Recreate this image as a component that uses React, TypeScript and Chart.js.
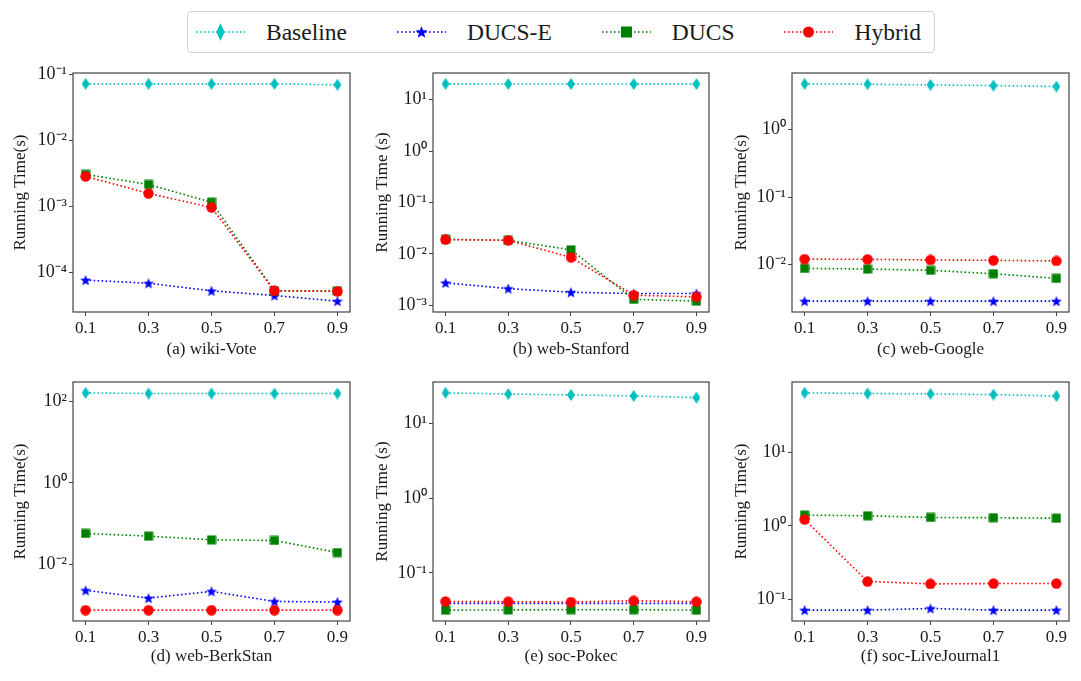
import { useEffect, useRef } from 'react'
import { Chart, registerables } from 'chart.js'

Chart.register(...registerables)

const xValues = [0.1, 0.3, 0.5, 0.7, 0.9]
const seriesNames = ['Baseline', 'DUCS-E', 'DUCS', 'Hybrid']
const seriesColors = ['#00bfbf', '#0000ff', '#008000', '#ff0000']
const seriesMarkers = ['thinDiamond', 'star', 'square', 'circle']

// (a) wiki-Vote
const wikiVoteBaseline = [0.072, 0.072, 0.072, 0.072, 0.0697]
const wikiVoteDucsE = [7.7e-5, 6.9e-5, 5.3e-5, 4.5e-5, 3.7e-5]
const wikiVoteDucs = [0.00307, 0.00216, 0.00116, 5.3e-5, 5.3e-5]
const wikiVoteHybrid = [0.00286, 0.00158, 0.00097, 5.3e-5, 5.2e-5]

// (b) web-Stanford
const webStanfordBaseline = [20.2, 20.1, 20.1, 20.0, 20.0]
const webStanfordDucsE = [0.00274, 0.00212, 0.0018, 0.0017, 0.0017]
const webStanfordDucs = [0.0193, 0.0184, 0.012, 0.00131, 0.00121]
const webStanfordHybrid = [0.019, 0.0184, 0.0086, 0.00158, 0.00146]

// (c) web-Google
const webGoogleBaseline = [4.79, 4.73, 4.62, 4.52, 4.37]
const webGoogleDucsE = [0.00288, 0.00288, 0.00288, 0.00288, 0.00288]
const webGoogleDucs = [0.0088, 0.00862, 0.00824, 0.00734, 0.00627]
const webGoogleHybrid = [0.0121, 0.012, 0.01175, 0.0116, 0.01135]

// (d) web-BerkStan
const webBerkStanBaseline = [160, 154, 154, 154, 154]
const webBerkStanDucsE = [0.00234, 0.00151, 0.00221, 0.00125, 0.00121]
const webBerkStanDucs = [0.0578, 0.0498, 0.0404, 0.0389, 0.0197]
const webBerkStanHybrid = [0.000767, 0.000767, 0.000767, 0.000767, 0.000767]

// (e) soc-Pokec
const socPokecBaseline = [25.8, 24.9, 24.2, 23.5, 22.3]
const socPokecDucsE = [0.0389, 0.0389, 0.0389, 0.0389, 0.0389]
const socPokecDucs = [0.0316, 0.0318, 0.032, 0.032, 0.0316]
const socPokecHybrid = [0.0413, 0.041, 0.0406, 0.0422, 0.041]

// (f) soc-LiveJournal1
const liveJournalBaseline = [65.3, 64.0, 63.2, 61.8, 59.2]
const liveJournalDucsE = [0.0706, 0.0706, 0.0744, 0.0706, 0.0706]
const liveJournalDucs = [1.4, 1.37, 1.3, 1.29, 1.27]
const liveJournalHybrid = [1.22, 0.174, 0.161, 0.163, 0.163]

const panels = [
  { title: '(a) wiki-Vote', yTitle: 'Running Time(s)', series: [wikiVoteBaseline, wikiVoteDucsE, wikiVoteDucs, wikiVoteHybrid] },
  { title: '(b) web-Stanford', yTitle: 'Running Time (s)', series: [webStanfordBaseline, webStanfordDucsE, webStanfordDucs, webStanfordHybrid] },
  { title: '(c) web-Google', yTitle: 'Running Time(s)', series: [webGoogleBaseline, webGoogleDucsE, webGoogleDucs, webGoogleHybrid] },
  { title: '(d) web-BerkStan', yTitle: 'Running Time(s)', series: [webBerkStanBaseline, webBerkStanDucsE, webBerkStanDucs, webBerkStanHybrid] },
  { title: '(e) soc-Pokec', yTitle: 'Running Time (s)', series: [socPokecBaseline, socPokecDucsE, socPokecDucs, socPokecHybrid] },
  { title: '(f) soc-LiveJournal1', yTitle: 'Running Time(s)', series: [liveJournalBaseline, liveJournalDucsE, liveJournalDucs, liveJournalHybrid] },
]

const FONT = '"Liberation Serif", "Times New Roman", serif'
const colAreaLeft = [73, 433, 792]
const colAreaRight = [350, 709, 1069]
const rowAreaTop = [73, 382]
const rowAreaBottom = [312, 621]

const SUP: Record<string, string> = {
  '-': '\u207b', '0': '\u2070', '1': '\u00b9', '2': '\u00b2', '3': '\u00b3',
  '4': '\u2074', '5': '\u2075', '6': '\u2076', '7': '\u2077', '8': '\u2078', '9': '\u2079',
}
const powerLabel = (v: number) =>
  '10' + String(Math.round(Math.log10(v))).split('').map((ch) => SUP[ch]).join('')

function starPoints(cx: number, cy: number, outer: number, inner: number) {
  const pts: [number, number][] = []
  for (let i = 0; i < 10; i++) {
    const r = i % 2 === 0 ? outer : inner
    const a = -Math.PI / 2 + (i * Math.PI) / 5
    pts.push([cx + r * Math.cos(a), cy + r * Math.sin(a)])
  }
  return pts
}

const markerCache: Record<string, HTMLCanvasElement> = {}
function markerCanvas(kind: string, color: string) {
  const key = kind + color
  if (markerCache[key]) return markerCache[key]
  const sizes: Record<string, [number, number]> = {
    thinDiamond: [8, 12], star: [12, 12], square: [10, 10], circle: [11, 11],
  }
  const [w, h] = sizes[kind]
  const c = document.createElement('canvas')
  c.width = w
  c.height = h
  const ctx = c.getContext('2d')!
  ctx.fillStyle = color
  ctx.beginPath()
  if (kind === 'thinDiamond') {
    ctx.moveTo(w / 2, 0)
    ctx.lineTo(w, h / 2)
    ctx.lineTo(w / 2, h)
    ctx.lineTo(0, h / 2)
  } else if (kind === 'star') {
    starPoints(w / 2, h / 2 + 0.5, 5.8, 2.4).forEach(([x, y], i) => (i ? ctx.lineTo(x, y) : ctx.moveTo(x, y)))
  } else if (kind === 'square') {
    ctx.rect(0.5, 0.5, w - 1, h - 1)
  } else {
    ctx.arc(w / 2, h / 2, w / 2 - 0.3, 0, Math.PI * 2)
  }
  ctx.closePath()
  ctx.fill()
  markerCache[key] = c
  return c
}

const framePlugin = {
  id: 'frame',
  afterDatasetsDraw(chart: Chart) {
    const { ctx, chartArea: a } = chart
    ctx.save()
    ctx.strokeStyle = '#444'
    ctx.lineWidth = 1.2
    ctx.strokeRect(a.left, a.top, a.right - a.left, a.bottom - a.top)
    ctx.restore()
  },
}

function Panel({ panel, index }: { panel: any; index: number }) {
  const canvasRef = useRef<HTMLCanvasElement | null>(null)
  const chartRef = useRef<Chart | null>(null)

  const col = index % 3
  const row = Math.floor(index / 3)
  const left = colAreaLeft[col] - 73
  const top = rowAreaTop[row] - 13
  const width = colAreaRight[col] - left + 8
  const height = rowAreaBottom[row] - top + 55

  useEffect(() => {
    const ctx = canvasRef.current?.getContext('2d')
    if (!ctx) return

    const all: number[] = panel.series.flat()
    const lo = Math.log10(Math.min(...all))
    const hi = Math.log10(Math.max(...all))
    const m = (hi - lo) * 0.05
    const yMin = 10 ** (lo - m)
    const yMax = 10 ** (hi + m)
    // like matplotlib's LogLocator: skip decades when too many fit
    const eLo = Math.ceil(lo - m)
    const eHi = Math.floor(hi + m)
    const stride = Math.floor((eHi - eLo) / 5) + 1
    const yTicks: number[] = []
    for (let e = eLo; e <= eHi; e++) if (e % stride === 0) yTicks.push(10 ** e)

    const xm = (xValues[xValues.length - 1] - xValues[0]) * 0.05
    const tickFont = { family: FONT, size: 17 }

    chartRef.current = new Chart(ctx, {
      type: 'line',
      data: {
        datasets: panel.series.map((vals: number[], k: number) => ({
          label: seriesNames[k],
          data: xValues.map((x, j) => ({ x, y: vals[j] })),
          borderColor: seriesColors[k],
          backgroundColor: seriesColors[k],
          borderWidth: 1.6,
          borderDash: [1.6, 2.4],
          pointStyle: markerCanvas(seriesMarkers[k], seriesColors[k]),
          pointRadius: 5,
          pointHoverRadius: 5,
          tension: 0,
          order: 4 - k,
        })),
      },
      options: {
        responsive: false,
        animation: false,
        events: [],
        layout: { padding: { left: 0, right: 8, top: 13, bottom: 0 } },
        plugins: { legend: { display: false }, tooltip: { enabled: false } },
        scales: {
          x: {
            type: 'linear',
            min: xValues[0] - xm,
            max: xValues[xValues.length - 1] + xm,
            bounds: 'data',
            afterBuildTicks: (s: any) => { s.ticks = xValues.map((v) => ({ value: v })) },
            afterFit: (s: any) => { s.height = 55 },
            grid: { drawOnChartArea: false, drawTicks: true, tickLength: 4, tickColor: '#444' },
            border: { display: false },
            ticks: {
              autoSkip: false, maxRotation: 0, padding: 2, color: '#1a1a1a', font: tickFont,
              callback: (v: any) => Number(v).toFixed(1),
            },
            title: {
              display: true, text: panel.title, color: '#1a1a1a', font: tickFont,
              padding: { top: 0, bottom: row === 0 ? 7 : 9 },
            },
          },
          y: {
            type: 'logarithmic',
            min: yMin,
            max: yMax,
            bounds: 'data',
            afterBuildTicks: (s: any) => { s.ticks = yTicks.map((v) => ({ value: v, major: true })) },
            afterFit: (s: any) => { s.width = 73 },
            grid: { drawOnChartArea: false, drawTicks: true, tickLength: 4, tickColor: '#444' },
            border: { display: false },
            ticks: {
              autoSkip: false, padding: 2, color: '#1a1a1a', font: { family: FONT, size: 18 },
              callback: (v: any) => powerLabel(Number(v)),
            },
            title: {
              display: true, text: panel.yTitle, color: '#1a1a1a', font: tickFont,
              padding: { top: col === 0 ? 10 : 12, bottom: 0 },
            },
          },
        },
      },
      plugins: [framePlugin],
    } as any)

    return () => chartRef.current?.destroy()
  }, [panel])

  return (
    <canvas
      ref={canvasRef}
      width={width}
      height={height}
      style={{ position: 'absolute', left, top, width, height }}
    />
  )
}

function LegendMarker({ kind, color }: { kind: string; color: string }) {
  let shape = null
  if (kind === 'thinDiamond') shape = <polygon points="24.5,1 28.5,10 24.5,19 20.5,10" fill={color} />
  else if (kind === 'star')
    shape = <polygon points={starPoints(24.5, 10.5, 6.5, 2.7).map((p) => p.join(',')).join(' ')} fill={color} />
  else if (kind === 'square') shape = <rect x={19} y={4.5} width={11} height={11} fill={color} />
  else shape = <circle cx={24.5} cy={10} r={5.5} fill={color} />
  return (
    <svg width={49} height={20} style={{ display: 'block' }}>
      <line x1={0} y1={10} x2={49} y2={10} stroke={color} strokeWidth={1.6} strokeDasharray="1.6 2.4" />
      {shape}
    </svg>
  )
}

function Legend() {
  return (
    <div
      style={{
        position: 'absolute', left: 187, top: 11, width: 748, height: 42, boxSizing: 'border-box',
        border: '1px solid #d4d4d4', borderRadius: 4, display: 'flex', alignItems: 'center', paddingLeft: 8,
      }}
    >
      {seriesNames.map((name, k) => (
        <div key={name} style={{ display: 'flex', alignItems: 'center', marginRight: k < 3 ? 50 : 0 }}>
          <LegendMarker kind={seriesMarkers[k]} color={seriesColors[k]} />
          <span style={{ marginLeft: 21, fontSize: 23.5, color: '#1a1a1a', lineHeight: '26px' }}>{name}</span>
        </div>
      ))}
    </div>
  )
}

export default function App() {
  return (
    <div
      style={{
        position: 'absolute', left: 0, top: 0, width: 1081, height: 681, background: '#fff',
        fontFamily: FONT, overflow: 'hidden',
      }}
    >
      <Legend />
      {panels.map((p, i) => (
        <Panel key={p.title} panel={p} index={i} />
      ))}
    </div>
  )
}
